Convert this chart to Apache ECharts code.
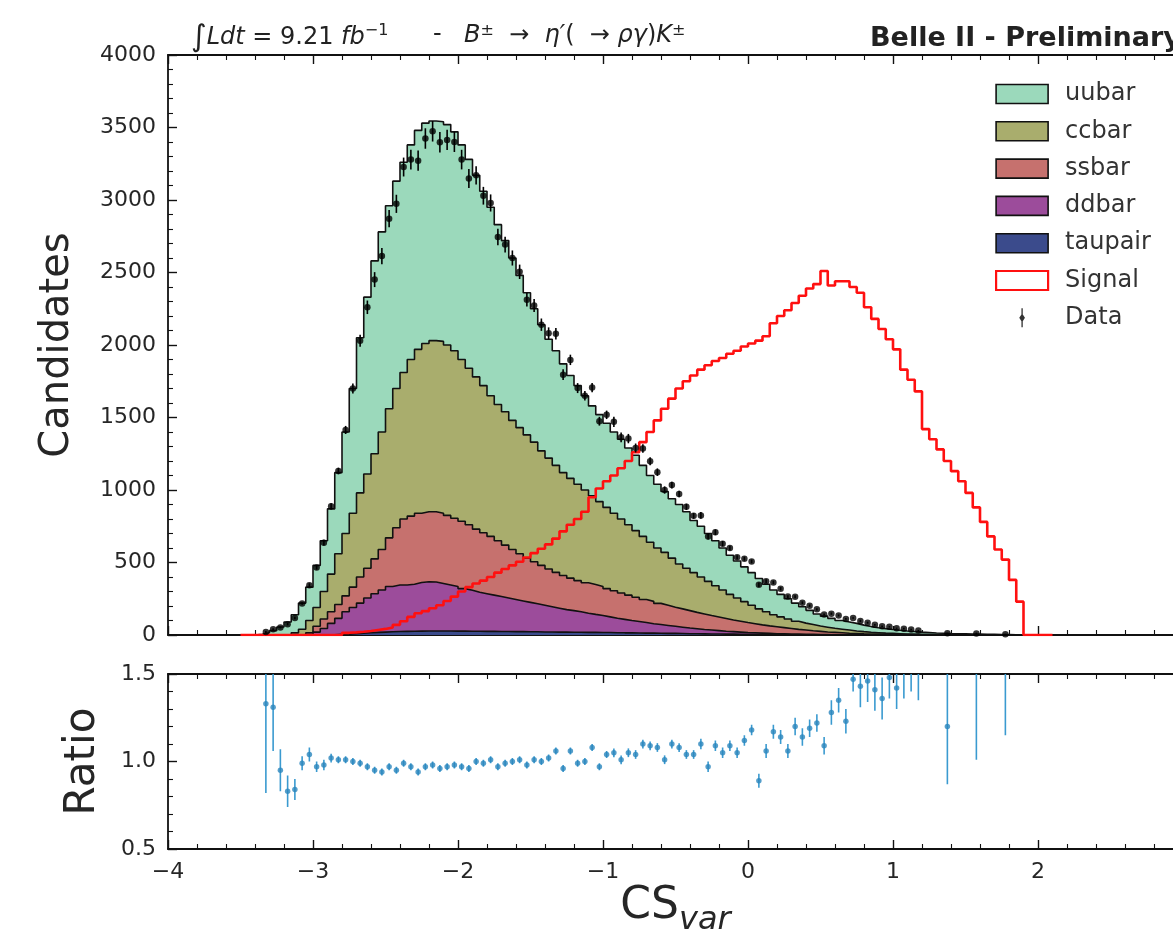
<!DOCTYPE html>
<html>
<head>
<meta charset="utf-8">
<script src="https://cdn.jsdelivr.net/npm/echarts@6/dist/echarts.min.js"></script>
<style>html,body{margin:0;padding:0;background:#fff}#c{width:1173px;height:935px}</style>
</head>
<body>
<div id="c"></div>
<script>
// ---- Histogram binning (CS_var), 0.05 wide bins starting at -3.5 ----
const binLow = -3.5;
const binWidth = 0.05;

// ---- MC components (candidates per bin) ----
const uubar = [0,0,5,15,30,55,90,125,180,230,
  290,350,450,560,700,860,1070,1220,1330,1380,
  1400,1430,1450,1480,1510,1520,1515,1515,1520,1510,
  1480,1440,1390,1340,1300,1240,1180,1120,1050,980,
  920,870,820,790,750,710,680,650,620,600,
  580,560,550,530,520,490,460,440,420,410,
  410,390,360,350,330,310,290,270,255,240,
  225,210,190,170,155,140,125,113,98,83,
  76,69,60,56,52,45,39,34,31,27,
  24,21,18,15,13,11,9,8,7,7,
  6,5,5,4,3,3,2,2,1,1,
  1,0];
const ccbar = [0,0,0,0,0,0,0,15,40,85,
  130,190,260,350,430,510,580,650,725,810,
  890,960,1010,1080,1130,1160,1180,1185,1175,1155,
  1115,1080,1050,1015,970,940,920,890,870,850,
  825,790,765,738,710,688,665,640,612,585,
  560,535,510,485,460,435,408,382,365,338,
  310,292,274,255,236,216,196,176,160,144,
  127,110,97,83,74,65,56,48,43,37,
  33,28,25,22,18,15,12,10,8,7,
  6,4,4,3,3,2,3,2,2,1,
  1,1,0,0,0,0,0,0,0,0,
  0,0];
const ssbar = [0,0,0,0,0,0,0,0,0,15,
  40,65,80,95,110,140,180,205,240,280,
  335,395,455,470,478,483,485,485,480,470,
  465,452,435,420,405,385,365,345,325,305,
  290,275,260,247,235,224,215,210,206,200,
  195,190,182,175,167,159,154,146,139,132,
  126,120,113,107,100,94,88,81,75,69,
  63,57,52,48,43,38,33,29,25,22,
  18,16,13,11,9,7,7,6,5,4,
  3,3,2,2,1,1,0,0,0,0,
  0,0,0,0,0,0,0,0,0,0,
  0,0];
const ddbar = [0,0,0,0,0,0,0,0,0,0,
  20,45,78,111,154,181,208,240,267,290,
  313,321,320,324,335,339,337,327,317,308,
  293,282,269,260,250,241,231,222,212,203,
  193,184,174,165,155,149,141,132,124,118,
  108,99,93,85,79,73,65,60,55,49,
  44,39,34,30,27,23,20,17,15,12,
  11,9,8,6,5,5,4,3,3,2,
  2,2,2,1,1,1,0,0,0,0,
  0,0,0,0,0,0,0,0,0,0,
  0,0,0,0,0,0,0,0,0,0,
  0,0];
const taupair = [0,0,0,0,0,0,0,0,0,0,
  0,0,2,4,6,9,12,15,18,20,
  22,24,25,26,27,28,28,28,28,27,
  27,26,26,25,25,24,24,23,23,22,
  22,21,21,20,20,19,19,18,18,17,
  17,16,15,15,14,13,13,12,11,11,
  10,9,9,8,7,7,6,6,5,5,
  4,4,3,3,3,2,2,2,1,1,
  1,0,0,0,0,0,0,0,0,0,
  0,0,0,0,0,0,0,0,0,0,
  0,0,0,0,0,0,0,0,0,0,
  0,0];
// ---- Signal (scaled) ----
const signal = [0,0,0,0,0,0,0,0,0,0,
  0,0,0,0,15,18,22,28,35,42,
  52,70,95,125,150,165,185,205,235,265,
  300,330,355,375,400,430,455,480,505,535,
  565,595,625,665,715,760,800,850,950,1010,
  1060,1100,1150,1200,1260,1330,1400,1480,1560,1630,
  1700,1750,1790,1830,1860,1890,1910,1940,1960,1990,
  2010,2030,2060,2150,2200,2240,2290,2340,2390,2420,
  2510,2410,2440,2440,2400,2360,2260,2180,2110,2040,
  1970,1830,1760,1680,1420,1350,1280,1200,1130,1060,
  980,880,780,680,590,520,380,230,0,0,
  0,0];
// ---- Data / MC ratio and its uncertainty ----
const ratio = [null,null,null,1.33,1.31,0.95,0.83,0.84,0.99,1.04,
  0.97,0.98,1.02,1.01,1.01,1.00,0.99,0.97,0.95,0.94,
  0.97,0.95,0.99,0.97,0.94,0.97,0.98,0.96,0.97,0.98,
  0.97,0.96,1.00,0.99,1.01,0.97,0.99,1.00,1.01,0.98,
  1.01,1.00,1.02,1.06,0.96,1.06,0.99,1.00,1.08,0.97,
  1.04,1.05,1.01,1.05,1.04,1.10,1.09,1.08,1.01,1.10,
  1.08,1.04,1.04,1.10,0.97,1.09,1.05,1.09,1.05,1.12,
  1.18,0.89,1.06,1.17,1.14,1.06,1.20,1.14,1.19,1.22,
  1.09,1.28,1.35,1.23,1.47,1.43,1.46,1.41,1.36,1.48,
  1.42,1.56,1.60,1.55,null,null,null,1.20,null,null,
  null,1.85,null,null,null,1.90,null,null,null,null,
  null,null];
const ratioErr = [null,null,null,0.51,0.25,0.12,0.09,0.06,0.04,0.04,
  0.03,0.03,0.025,0.02,0.02,0.02,0.02,0.02,0.02,0.02,
  0.02,0.02,0.02,0.02,0.02,0.02,0.02,0.02,0.02,0.02,
  0.02,0.02,0.02,0.02,0.02,0.02,0.02,0.02,0.02,0.02,
  0.02,0.02,0.02,0.02,0.02,0.02,0.02,0.02,0.02,0.02,
  0.02,0.025,0.025,0.025,0.025,0.025,0.025,0.025,0.025,0.025,
  0.025,0.025,0.025,0.03,0.03,0.03,0.03,0.03,0.03,0.03,
  0.03,0.04,0.04,0.04,0.04,0.04,0.05,0.05,0.05,0.05,
  0.05,0.07,0.07,0.07,0.07,0.12,0.12,0.12,0.12,0.12,
  0.12,0.2,0.2,0.2,null,null,null,0.33,null,null,
  null,0.84,null,null,null,0.75,null,null,null,null,
  null,null];

const legendNames = ['uubar','ccbar','ssbar','ddbar','taupair','Signal','Data'];

// ---------------- build ----------------
const FONT = 'DejaVu Sans';
const nBins = uubar.length;
const edges = [];
for (let i = 0; i <= nBins; i++) edges.push(+(binLow + i * binWidth).toFixed(4));
const centers = [];
for (let i = 0; i < nBins; i++) centers.push(+(binLow + (i + 0.5) * binWidth).toFixed(4));

const comps = [
  {name:'taupair', vals:taupair, color:'#3b4b8c'},
  {name:'ddbar',   vals:ddbar,   color:'#9c4c9b'},
  {name:'ssbar',   vals:ssbar,   color:'#c6716e'},
  {name:'ccbar',   vals:ccbar,   color:'#a9ad6d'},
  {name:'uubar',   vals:uubar,   color:'#9bd9bb'}
];
let run = new Array(nBins).fill(0);
comps.forEach(c => { run = run.map((v, i) => v + c.vals[i]); c.cum = run.slice(); });
const total = comps[comps.length - 1].cum;

function stepData(vals) {
  const d = [];
  for (let i = 0; i < nBins; i++) d.push([edges[i], vals[i]]);
  d.push([edges[nBins], 0]);
  return d;
}

const series = [];
comps.slice().reverse().forEach(c => {
  series.push({
    name: c.name, type:'line', step:'end', xAxisIndex:0, yAxisIndex:0,
    data: stepData(c.cum), showSymbol:false, symbol:'none', silent:true, z:2,
    color: c.color,
    lineStyle:{color:'#111', width:1.6},
    areaStyle:{color:c.color, opacity:1, origin:'start'},
    animation:false
  });
});
series.push({
  name:'Signal', type:'line', step:'end', xAxisIndex:0, yAxisIndex:0,
  data: stepData(signal), showSymbol:false, symbol:'none', z:4, color:'#ff0000',
  lineStyle:{color:'#ff1010', width:2.6}, animation:false
});

const dataPts = [], dataErr = [], rPts = [], rErr = [];
for (let i = 0; i < nBins; i++) {
  if (ratio[i] == null) continue;
  const d = ratio[i] * total[i];
  const e = ratioErr[i] * total[i];
  dataPts.push([centers[i], d]);
  dataErr.push([centers[i], d - e, d + e]);
  if (ratio[i] >= 0.5 && ratio[i] <= 1.5) rPts.push([centers[i], ratio[i]]);
  rErr.push([centers[i], ratio[i] - ratioErr[i], ratio[i] + ratioErr[i]]);
}

function errRender(color, width) {
  return function (params, api) {
    const x = api.value(0), lo = api.value(1), hi = api.value(2);
    const a = api.coord([x, lo]), b = api.coord([x, hi]);
    const cs = params.coordSys;
    const y1 = Math.max(Math.min(a[1], b[1]), cs.y);
    const y2 = Math.min(Math.max(a[1], b[1]), cs.y + cs.height);
    if (y2 <= y1) return null;
    return {type:'line', shape:{x1:a[0], y1:y1, x2:a[0], y2:y2},
            style:{stroke:color, lineWidth:width}};
  };
}

series.push({
  name:'DataErr', type:'custom', xAxisIndex:0, yAxisIndex:0, z:5,
  data:dataErr, encode:{x:0, y:[1,2]}, renderItem:errRender('#000', 1.6), animation:false, silent:true
});
series.push({
  name:'Data', type:'scatter', xAxisIndex:0, yAxisIndex:0, z:6,
  data:dataPts, symbol:'circle', symbolSize:6.5, itemStyle:{color:'#000'}, animation:false, silent:true
});
series.push({
  name:'RatioErr', type:'custom', xAxisIndex:2, yAxisIndex:1, z:5,
  data:rErr, encode:{x:0, y:[1,2]}, renderItem:errRender('#3a9ad0', 1.6), animation:false, silent:true
});
series.push({
  name:'Ratio', type:'scatter', xAxisIndex:2, yAxisIndex:1, z:6,
  data:rPts, symbol:'circle', symbolSize:5.5, itemStyle:{color:'#2a86bd'}, animation:false, silent:true, clip:true
});

const minusFmt = v => (v < 0 ? '\u2212' + Math.abs(v) : String(v));
const axisLine = {show:true, onZero:false, lineStyle:{color:'#111', width:1.8}};
const tick = {show:true, inside:true, length:9, lineStyle:{color:'#111', width:1.4}};
const minor = {show:true, splitNumber:5, length:5, lineStyle:{color:'#111', width:1.1}};
const lbl = {color:'#262626', fontFamily:FONT, fontSize:22};

const grids = [
  {left:168, top:55, width:1015, height:580, outerBoundsMode:'none', containLabel:false},
  {left:168, top:674, width:1015, height:175, outerBoundsMode:'none', containLabel:false}
];

function xAx(grid, pos, showLabel, extra) {
  return Object.assign({
    type:'value', gridIndex:grid, position:pos, min:-4, max:3, interval:1,
    axisLine:axisLine, axisTick:tick, minorTick:minor,
    splitLine:{show:false}, minorSplitLine:{show:false},
    axisLabel:Object.assign({show:showLabel, margin:12, formatter:minusFmt}, lbl)
  }, extra || {});
}

const legendIcon = {
  uubar:{icon:'rect', itemStyle:{color:'#9bd9bb', borderColor:'#111', borderWidth:1.6}},
  ccbar:{icon:'rect', itemStyle:{color:'#a9ad6d', borderColor:'#111', borderWidth:1.6}},
  ssbar:{icon:'rect', itemStyle:{color:'#c6716e', borderColor:'#111', borderWidth:1.6}},
  ddbar:{icon:'rect', itemStyle:{color:'#9c4c9b', borderColor:'#111', borderWidth:1.6}},
  taupair:{icon:'rect', itemStyle:{color:'#3b4b8c', borderColor:'#111', borderWidth:1.6}},
  Signal:{icon:'rect', itemStyle:{color:'#ffffff', borderColor:'#ff1010', borderWidth:2.2}},
  Data:{icon:'path://M4.3,0H5.7V6.5L8,10L5.7,13.5V20H4.3V13.5L2,10L4.3,6.5Z', itemStyle:{color:'#000', borderWidth:0}}
};

const titleRich = {
  g:{fontFamily:FONT, fontStyle:'italic', fontWeight:'normal', fontSize:30, color:'#222'},
  i:{fontFamily:FONT, fontStyle:'italic', fontWeight:'normal', fontSize:24, color:'#222'},
  n:{fontFamily:FONT, fontWeight:'normal', fontSize:24, color:'#222'},
  s:{fontFamily:FONT, fontWeight:'normal', fontSize:16, color:'#222', verticalAlign:'top', padding:[0,0,10,0]}
};

const option = {
  animation:false,
  backgroundColor:'#ffffff',
  title:[
    {left:186, top:18, text:'{g|∫}{i|Ldt}{n| = 9.21 }{i|fb}{s|−1}',
     textStyle:{fontWeight:'normal', rich:titleRich}},
    {left:428, top:18, text:'{n|-}', textStyle:{fontWeight:'normal', rich:titleRich}},
    {left:459, top:18, text:'{i|B}{s|±}{n|  →  }{i|η′}{n|(  → }{i|ργ}{n|)}{i|K}{s|±}',
     textStyle:{fontWeight:'normal', rich:titleRich}},
    {left:865, top:20, text:'Belle II - Preliminary',
     textStyle:{fontFamily:FONT, fontWeight:'bold', fontSize:27, color:'#222'}}
  ],
  legend:{
    orient:'vertical', left:995, top:82, padding:0, itemWidth:52, itemHeight:19, itemGap:13.3,
    textStyle:{fontFamily:FONT, fontSize:24, color:'#333', padding:[0,0,0,12]},
    selectedMode:false,
    data: legendNames.map(n => Object.assign({name:n}, legendIcon[n]))
  },
  grid:grids,
  xAxis:[
    xAx(0, 'bottom', false),
    xAx(0, 'top', false),
    xAx(1, 'bottom', true, {
      name:'{a|CS}{b|var}', nameLocation:'middle', nameGap:36,
      nameTextStyle:{rich:{
        a:{fontFamily:FONT, fontSize:44, color:'#262626'},
        b:{fontFamily:FONT, fontSize:32, fontStyle:'italic', color:'#262626', verticalAlign:'bottom', padding:[0,0,-8,0]}
      }}
    }),
    xAx(1, 'top', false)
  ],
  yAxis:[
    {type:'value', gridIndex:0, min:0, max:4000, interval:500,
     axisLine:axisLine, axisTick:tick, minorTick:minor,
     splitLine:{show:false}, minorSplitLine:{show:false},
     axisLabel:Object.assign({margin:12, formatter:v => String(v)}, lbl),
     name:'Candidates', nameLocation:'middle', nameGap:90, nameRotate:90,
     nameTextStyle:{fontFamily:FONT, fontSize:40, color:'#262626'}},
    {type:'value', gridIndex:1, min:0.5, max:1.5, interval:0.5,
     axisLine:axisLine, axisTick:tick, minorTick:minor,
     splitLine:{show:false}, minorSplitLine:{show:false},
     axisLabel:Object.assign({margin:12, formatter:v => v.toFixed(1)}, lbl),
     name:'Ratio', nameLocation:'middle', nameGap:64, nameRotate:90,
     nameTextStyle:{fontFamily:FONT, fontSize:42, color:'#262626'}}
  ],
  series:series
};

const chart = echarts.init(document.getElementById('c'), null, {renderer:'canvas', width:1173, height:935});
chart.setOption(option);
</script>
</body>
</html>
